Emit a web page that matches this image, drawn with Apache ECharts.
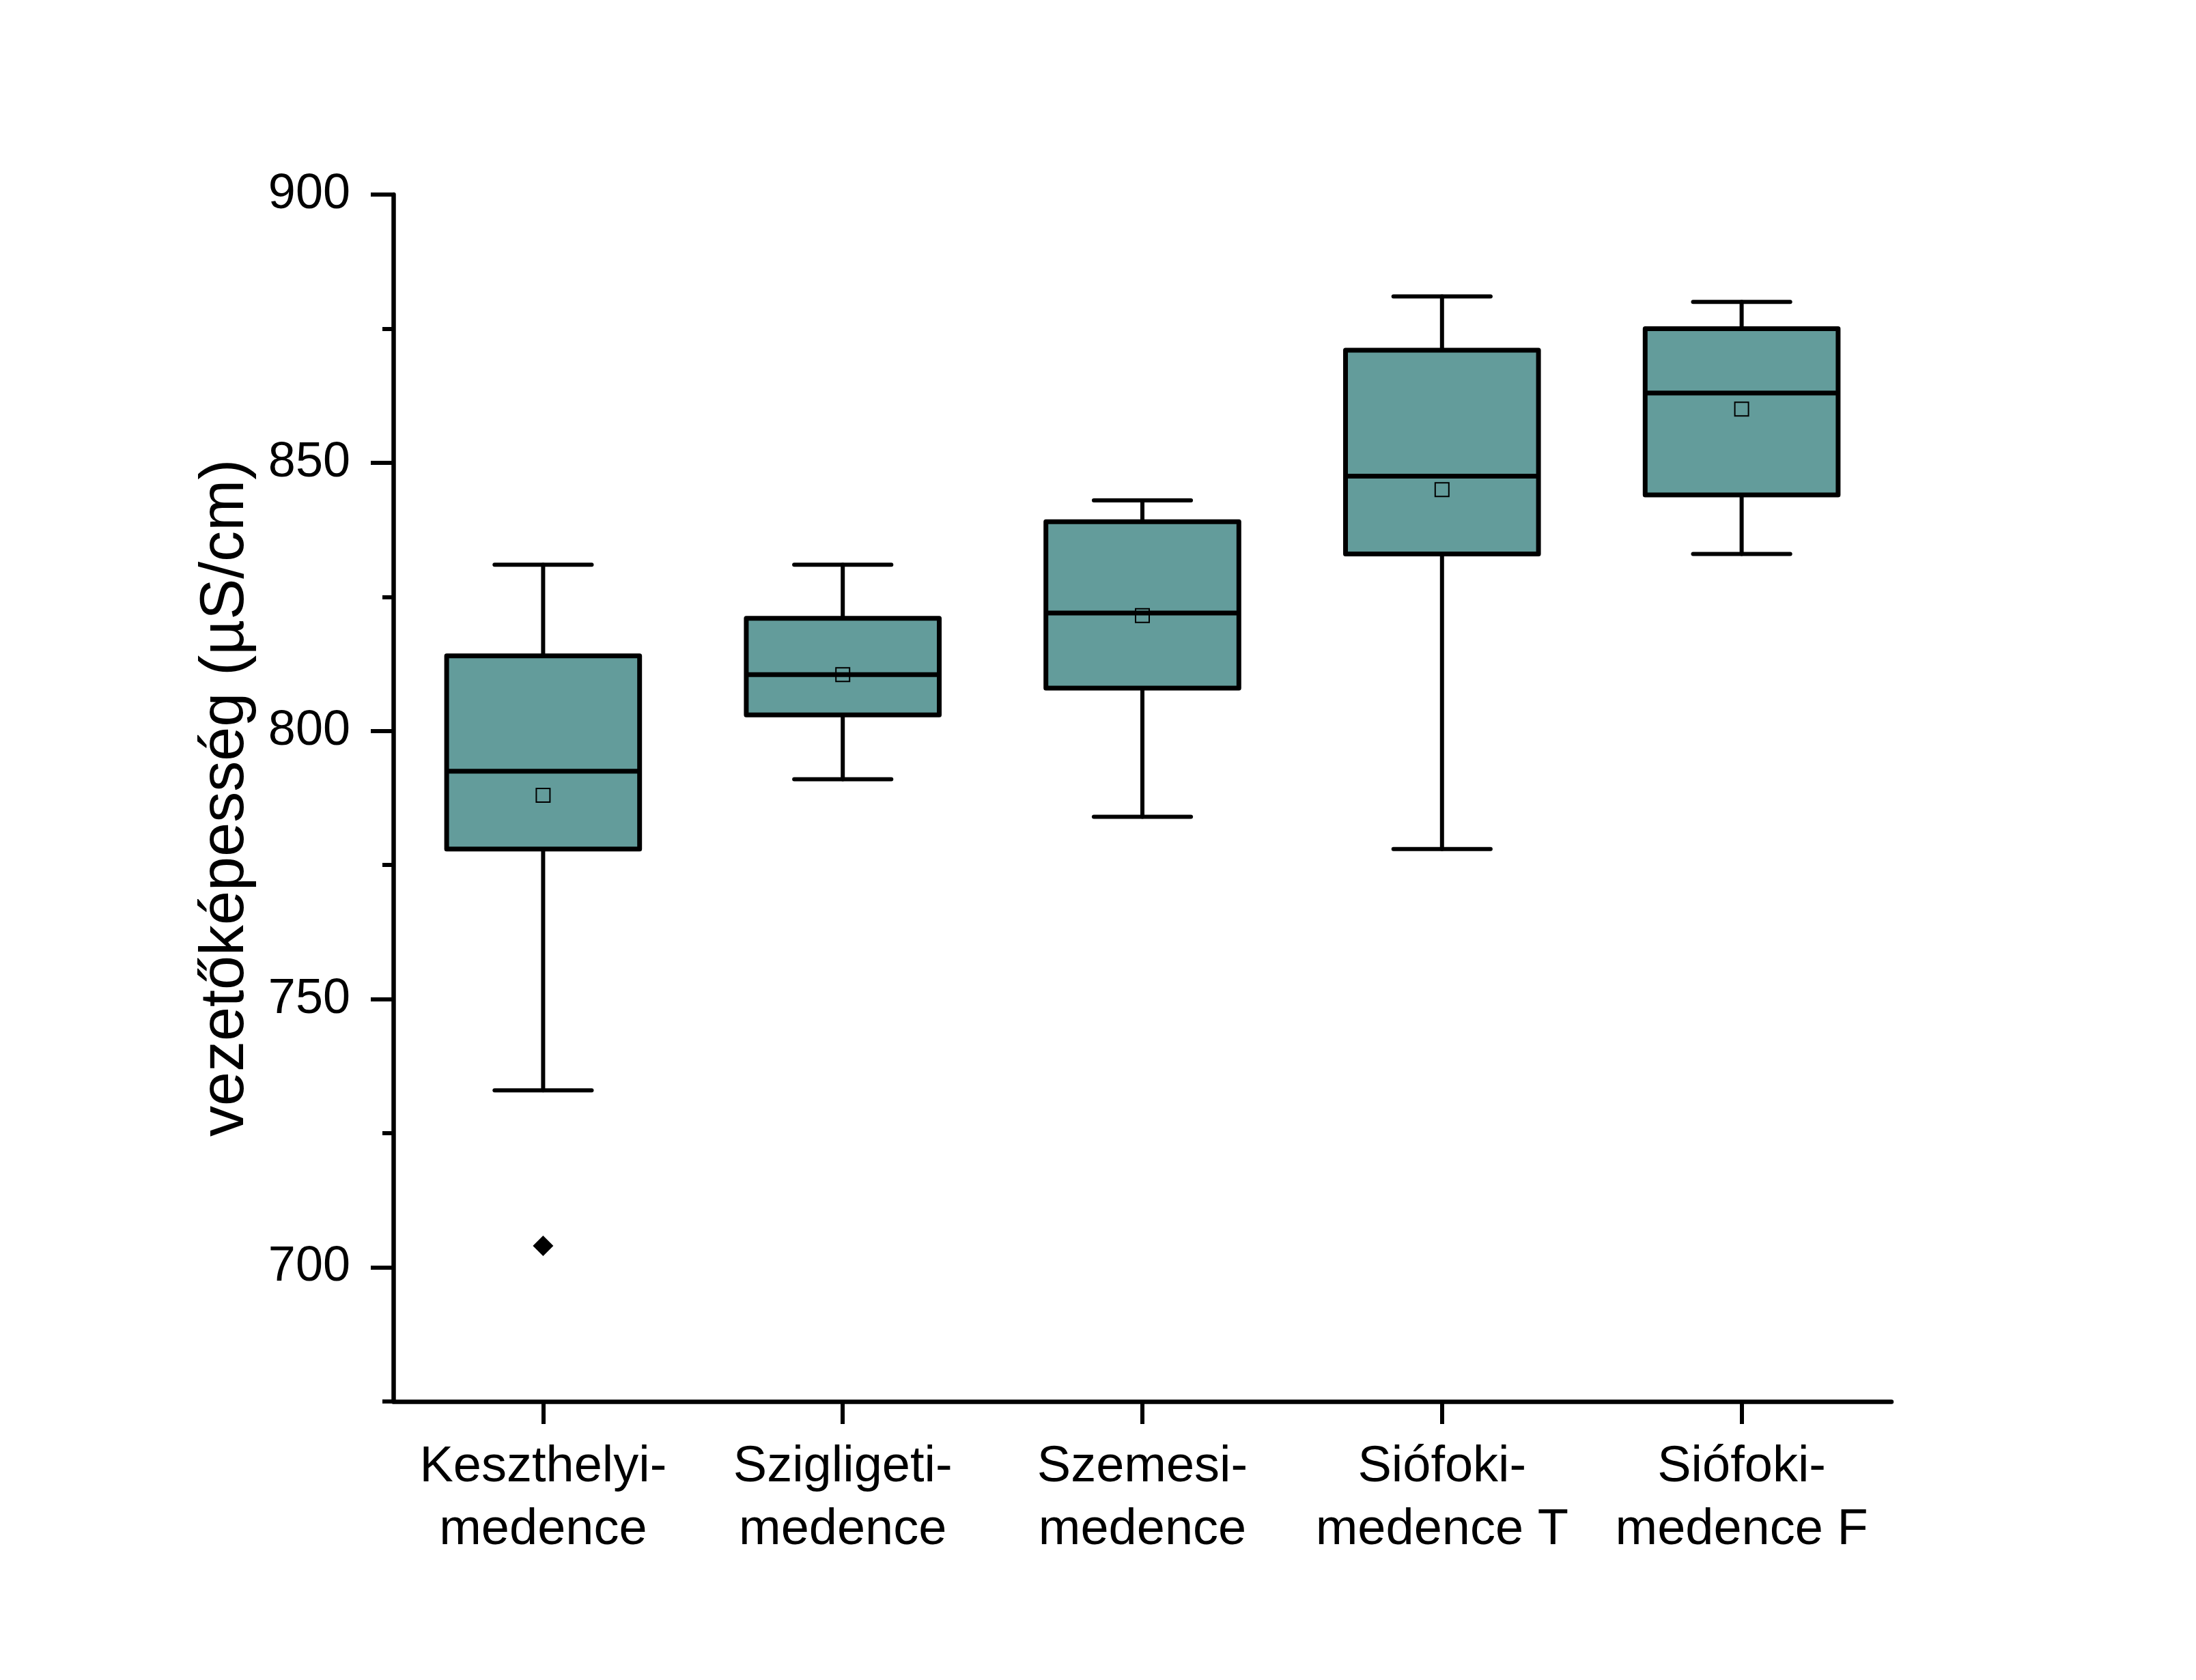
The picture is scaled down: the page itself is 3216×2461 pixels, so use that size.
<!DOCTYPE html>
<html>
<head>
<meta charset="utf-8">
<script src="https://cdn.jsdelivr.net/npm/echarts@6/dist/echarts.min.js"></script>
<style>
html,body{margin:0;padding:0;background:#fff;}
#chart{width:3216px;height:2461px;}
</style>
</head>
<body>
<div id="chart"></div>
<script>
// ---- data ----
const categories = ['Keszthelyi-\nmedence', 'Szigligeti-\nmedence', 'Szemesi-\nmedence', 'Siófoki-\nmedence T', 'Siófoki-\nmedence F'];
const whiskerLow  = [733, 791, 784, 778, 833];
const q1          = [778, 803, 808, 833, 844];
const median      = [792.5, 810.5, 822, 847.5, 863];
const q3          = [814, 821, 839, 871, 875];
const whiskerHigh = [831, 831, 843, 881, 880];
const means       = [788, 810.5, 821.5, 845, 860];
const outliers    = [[0, 704]];
const majorTicks  = [700, 750, 800, 850, 900];
const minorTicks  = [675, 725, 775, 825, 875];
const yTitle = 'vezetőképesség (µS/cm)';

const FONT = "'Liberation Sans', Arial, sans-serif";
const FILL = '#639c9b';

const boxData = categories.map((c, i) => [i, whiskerLow[i], q1[i], median[i], q3[i], whiskerHigh[i], means[i]]);

function renderBox(params, api) {
  const idx = api.value(0);
  const band = api.size([1, 0])[0];
  const bw = band * 0.644;
  const cw = band * 0.324;
  const pLow = api.coord([idx, api.value(1)]);
  const pQ1 = api.coord([idx, api.value(2)]);
  const pMed = api.coord([idx, api.value(3)]);
  const pQ3 = api.coord([idx, api.value(4)]);
  const pHigh = api.coord([idx, api.value(5)]);
  const pMean = api.coord([idx, api.value(6)]);
  const x = pQ1[0];
  const ls = {stroke: '#000', lineWidth: 6, lineCap: 'round', lineJoin: 'round'};
  const ms = 20;
  return {
    type: 'group',
    children: [
      {type: 'line', shape: {x1: x, y1: pHigh[1], x2: x, y2: pQ3[1]}, style: ls},
      {type: 'line', shape: {x1: x, y1: pQ1[1], x2: x, y2: pLow[1]}, style: ls},
      {type: 'line', shape: {x1: x - cw / 2, y1: pHigh[1], x2: x + cw / 2, y2: pHigh[1]}, style: ls},
      {type: 'line', shape: {x1: x - cw / 2, y1: pLow[1], x2: x + cw / 2, y2: pLow[1]}, style: ls},
      {type: 'rect', shape: {x: x - bw / 2, y: pQ3[1], width: bw, height: pQ1[1] - pQ3[1]},
        style: {fill: FILL, stroke: '#000', lineWidth: 7, lineJoin: 'round'}},
      {type: 'line', shape: {x1: x - bw / 2, y1: pMed[1], x2: x + bw / 2, y2: pMed[1]}, style: {stroke: '#000', lineWidth: 7}},
      {type: 'rect', shape: {x: x - ms / 2, y: pMean[1] - ms / 2, width: ms, height: ms},
        style: {fill: 'none', stroke: '#000', lineWidth: 2}}
    ]
  };
}

const chart = echarts.init(document.getElementById('chart'), null, {renderer: 'canvas'});
chart.setOption({
  backgroundColor: '#fff',
  animation: false,
  grid: {left: 576, right: 446, top: 285, bottom: 408, containLabel: false},
  xAxis: {
    type: 'category',
    data: categories,
    boundaryGap: true,
    axisLine: {show: true, lineStyle: {color: '#000', width: 6.5}},
    axisTick: {show: true, alignWithLabel: true, length: 33, lineStyle: {color: '#000', width: 6}},
    axisLabel: {color: '#000', fontSize: 74, fontFamily: FONT, margin: 51, lineHeight: 92, interval: 0},
    splitLine: {show: false}
  },
  yAxis: [
    {
      type: 'value', min: 675, max: 900, interval: 25,
      name: yTitle, nameLocation: 'middle', nameGap: 200, nameRotate: 90,
      nameTextStyle: {color: '#000', fontSize: 90, fontFamily: FONT},
      axisLine: {show: true, lineStyle: {color: '#000', width: 6.5}},
      axisTick: {show: true, length: 33, lineStyle: {color: '#000', width: 6}, customValues: majorTicks},
      axisLabel: {color: '#000', fontSize: 72, fontFamily: FONT, margin: 63, customValues: majorTicks},
      splitLine: {show: false}
    },
    {
      type: 'value', min: 675, max: 900, interval: 25, position: 'left',
      axisLine: {show: false},
      axisTick: {show: true, length: 16, lineStyle: {color: '#000', width: 6}, customValues: minorTicks},
      axisLabel: {show: false},
      splitLine: {show: false}
    }
  ],
  series: [
    {
      type: 'custom',
      renderItem: renderBox,
      data: boxData,
      encode: {x: 0, y: [1, 2, 3, 4, 5, 6]},
      clip: false,
      z: 2
    },
    {
      type: 'scatter',
      data: outliers,
      symbol: 'diamond',
      symbolSize: 30,
      itemStyle: {color: '#000', opacity: 1},
      z: 3
    }
  ]
});
</script>
</body>
</html>
